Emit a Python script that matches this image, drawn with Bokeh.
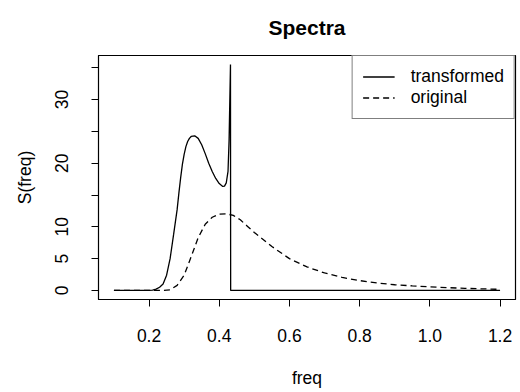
from bokeh.plotting import figure
from bokeh.models import FixedTicker, PrintfTickFormatter, Legend, LegendItem
from bokeh.embed import file_html
from bokeh.resources import INLINE

# ---- data ----
freq_transformed = [0.10, 0.20, 0.21, 0.22, 0.23, 0.24, 0.25, 0.26, 0.27, 0.28, 0.285,
                    0.29, 0.295, 0.30, 0.305, 0.31, 0.315, 0.32, 0.33, 0.34, 0.35,
                    0.36, 0.37, 0.38, 0.39, 0.40, 0.41, 0.415, 0.42, 0.425, 0.428,
                    0.432, 0.4325, 1.20]
s_transformed = [0.0, 0.0, 0.05, 0.2, 0.5, 1.0, 2.4, 5.0, 8.8, 12.7, 15.3,
                 17.7, 19.8, 21.4, 22.6, 23.4, 23.9, 24.2, 24.3, 23.9, 22.9,
                 21.5, 20.0, 18.7, 17.6, 16.8, 16.35, 16.4, 16.9, 18.7, 23.6,
                 35.5, 0.0, 0.0]

freq_original = [0.10, 0.20, 0.24, 0.26, 0.28, 0.30, 0.32, 0.34, 0.36, 0.38, 0.40,
                 0.42, 0.44, 0.46, 0.48, 0.50, 0.55, 0.60, 0.65, 0.70, 0.75, 0.80,
                 0.85, 0.90, 0.95, 1.00, 1.05, 1.10, 1.15, 1.20]
s_original = [0.0, 0.0, 0.02, 0.1, 0.8, 2.4, 5.3, 8.3, 10.4, 11.5, 12.0,
              12.05, 11.8, 11.1, 10.1, 9.1, 6.9, 5.0, 3.7, 2.75, 2.05, 1.55,
              1.18, 0.9, 0.72, 0.56, 0.44, 0.34, 0.25, 0.18]

x_ticks = [0.2, 0.4, 0.6, 0.8, 1.0, 1.2]
y_ticks = [0, 5, 10, 15, 20, 25, 30, 35]
y_tick_hidden = [15, 25, 35]

FONT = "Liberation Sans"
FS = "17.5px"

p = figure(width=518, height=390, x_range=(0.056, 1.244), y_range=(-1.42, 36.92),
           output_backend="svg", toolbar_location=None,
           min_border_left=98, min_border_right=3, min_border_top=53, min_border_bottom=91)

p.title.text = "Spectra"
p.title.align = "center"
p.title.vertical_align = "top"
p.title.text_font = FONT
p.title.text_font_size = "21px"
p.title.text_font_style = "bold"
p.title.text_color = "black"
p.title.standoff = 30

p.xgrid.visible = False
p.ygrid.visible = False
p.outline_line_color = "black"
p.outline_line_width = 1.2
p.background_fill_color = "white"
p.border_fill_color = "white"

for ax in (p.xaxis[0], p.yaxis[0]):
    ax.axis_line_color = "black"
    ax.major_tick_line_color = "black"
    ax.major_tick_out = 7
    ax.major_tick_in = 0
    ax.minor_tick_line_color = None
    ax.major_label_text_font = FONT
    ax.major_label_text_font_size = FS
    ax.major_label_text_color = "black"
    ax.axis_label_text_font = FONT
    ax.axis_label_text_font_size = FS
    ax.axis_label_text_font_style = "normal"
    ax.axis_label_text_color = "black"

p.xaxis.ticker = FixedTicker(ticks=x_ticks)
p.xaxis.formatter = PrintfTickFormatter(format="%.1f")
p.xaxis.axis_label = "freq"
p.xaxis.major_label_standoff = 22
p.xaxis.axis_label_standoff = 23

p.yaxis.ticker = FixedTicker(ticks=y_ticks)
p.yaxis.major_label_overrides = {t: "" for t in y_tick_hidden}
p.yaxis.major_label_orientation = "vertical"
p.yaxis.axis_label = "S(freq)"
p.yaxis.major_label_standoff = 23
p.yaxis.axis_label_standoff = 18

r1 = p.line(freq_transformed, s_transformed, line_color="black", line_width=1.3)
r2 = p.line(freq_original, s_original, line_color="black", line_width=1.3, line_dash="6 4")

legend = Legend(items=[LegendItem(label="transformed", renderers=[r1]),
                       LegendItem(label="original", renderers=[r2])],
                location="top_right")
legend.margin = 0
legend.padding = 10
legend.spacing = 0
legend.glyph_width = 32
legend.glyph_height = 21
legend.label_height = 21
legend.label_standoff = 16
legend.label_text_font = FONT
legend.label_text_font_size = FS
legend.label_text_color = "black"
legend.border_line_color = "black"
legend.border_line_width = 1.2
legend.background_fill_alpha = 1.0
p.add_layout(legend)

open("out.html", "w").write(file_html(p, INLINE))
